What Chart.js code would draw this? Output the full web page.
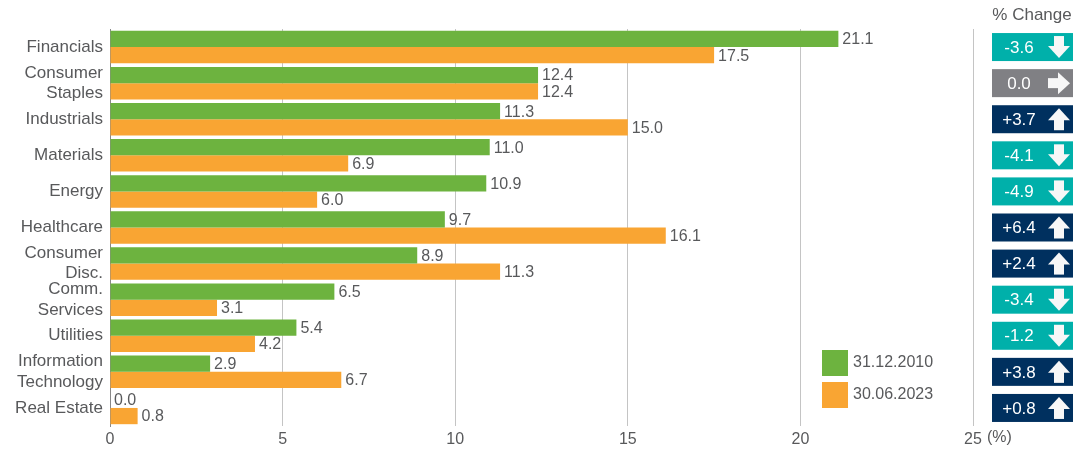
<!DOCTYPE html>
<html>
<head>
<meta charset="utf-8">
<script src="https://cdn.jsdelivr.net/npm/chart.js@4.4.0/dist/chart.umd.min.js"></script>
<style>
  html, body { margin: 0; padding: 0; background: #fff; }
  #wrap { width: 1080px; height: 450px; position: relative; }
</style>
</head>
<body>
<div id="wrap"><canvas id="myChart" width="1080" height="450"></canvas></div>
<script>
// data
var sectors = [
  "Financials", ["Consumer", "Staples"], "Industrials", "Materials", "Energy",
  "Healthcare", ["Consumer", "Disc."], ["Comm.", "Services"], "Utilities",
  ["Information", "Technology"], "Real Estate"
];
var weights2010 = [21.1, 12.4, 11.3, 11.0, 10.9, 9.7, 8.9, 6.5, 5.4, 2.9, 0.0];
var weights2023 = [17.5, 12.4, 15.0, 6.9, 6.0, 16.1, 11.3, 3.1, 4.2, 6.7, 0.8];
var pctChange = [-3.6, 0.0, 3.7, -4.1, -4.9, 6.4, 2.4, -3.4, -1.2, 3.8, 0.8];
var seriesLabels = ["31.12.2010", "30.06.2023"];
var xTicks = [0, 5, 10, 15, 20, 25];

var FONT = "'Liberation Sans', Arial, sans-serif";
var TXT = "#58595b";
var GREEN = "#6db33f";
var ORANGE = "#f9a533";

function arrow(ctx, v, ax, cy) {
  ctx.fillStyle = "#f7f7f7";
  if (v < 0) {
    ctx.fillRect(ax - 5, cy - 11, 10, 11);
    ctx.beginPath();
    ctx.moveTo(ax - 11, cy - 1); ctx.lineTo(ax + 11, cy - 1); ctx.lineTo(ax, cy + 11);
  } else if (v > 0) {
    ctx.fillRect(ax - 5, cy, 10, 11);
    ctx.beginPath();
    ctx.moveTo(ax - 11, cy + 1); ctx.lineTo(ax + 11, cy + 1); ctx.lineTo(ax, cy - 11);
  } else {
    ctx.fillRect(ax - 11, cy - 5, 11, 10);
    ctx.beginPath();
    ctx.moveTo(ax - 1, cy - 11); ctx.lineTo(ax - 1, cy + 11); ctx.lineTo(ax + 11, cy);
  }
  ctx.closePath();
  ctx.fill();
}

//labels, legend and % change column
var extras = {
  id: "extras",
  afterDatasetsDraw: function(chart) {
    var ctx = chart.ctx;
    ctx.save();
    ctx.font = "16px " + FONT;
    ctx.fillStyle = TXT;
    ctx.textBaseline = "middle";
    ctx.textAlign = "left";
    chart.data.datasets.forEach(function(ds, i) {
      chart.getDatasetMeta(i).data.forEach(function(bar, j) {
        ctx.fillText(ds.data[j].toFixed(1), bar.x + 4, bar.y + 1);
      });
    });
    ctx.restore();
  },
  afterDraw: function(chart) {
    var ctx = chart.ctx;
    var x = chart.scales.x, y = chart.scales.y;
    ctx.save();
    ctx.font = "16px " + FONT;
    ctx.fillStyle = TXT;
    ctx.textBaseline = "middle";

    // (%) after last tick
    var p25 = x.getPixelForValue(25);
    ctx.textAlign = "left";
    ctx.fillText("(%)", p25 + ctx.measureText("25").width / 2 + 5, 438);

    // legend
    chart.data.datasets.forEach(function(ds, i) {
      var ly = 350 + i * 32;
      ctx.fillStyle = ds.backgroundColor;
      ctx.fillRect(822, ly, 26, 26);
      ctx.fillStyle = TXT;
      ctx.fillText(ds.label, 853, ly + 13);
    });

    // % change header
    ctx.font = "17px " + FONT;
    ctx.textAlign = "center";
    ctx.fillText("% Change", 1032, 15);

    // % change boxes
    pctChange.forEach(function(v, i) {
      var cy = y.getPixelForValue(i);
      ctx.fillStyle = v < 0 ? "#00b0aa" : (v > 0 ? "#00305f" : "#808084");
      ctx.fillRect(992, cy - 14, 81, 28);
      ctx.fillStyle = "#fff";
      ctx.textAlign = "center";
      ctx.fillText((v > 0 ? "+" : "") + v.toFixed(1), 1019, cy + 1);
      arrow(ctx, v, 1059, cy);
    });
    ctx.restore();
  }
};

var ctx = document.getElementById("myChart").getContext("2d");
var myChart = new Chart(ctx, {
  type: "bar",
  data: {
    labels: sectors,
    datasets: [{
      label: seriesLabels[0],
      data: weights2010,
      backgroundColor: GREEN,
      categoryPercentage: 0.9,
      barPercentage: 1.0
    }, {
      label: seriesLabels[1],
      data: weights2023,
      backgroundColor: ORANGE,
      categoryPercentage: 0.9,
      barPercentage: 1.0
    }]
  },
  plugins: [extras],
  options: {
    indexAxis: "y",
    responsive: false,
    animation: false,
    layout: { padding: { top: 29, right: 107, left: 0, bottom: 0 } },
    plugins: {
      legend: { display: false },
      tooltip: { enabled: false }
    },
    scales: {
      x: {
        min: 0, max: 25,
        afterBuildTicks: function(s) { s.ticks = xTicks.map(function(v) { return { value: v }; }); },
        afterFit: function(s) { s.height = 24; },
        grid: { color: "#c4c4c4", drawTicks: false, lineWidth: 1 },
        border: { display: false },
        ticks: { padding: 4, color: TXT, font: { family: FONT, size: 16 } }
      },
      y: {
        afterFit: function(s) { s.width = 110; },
        grid: { display: false, drawTicks: false },
        border: { display: true, color: "#888" },
        ticks: { autoSkip: false, padding: 7, color: TXT, font: { family: FONT, size: 17, lineHeight: 1.2 } }
      }
    }
  }
});
</script>
</body>
</html>
